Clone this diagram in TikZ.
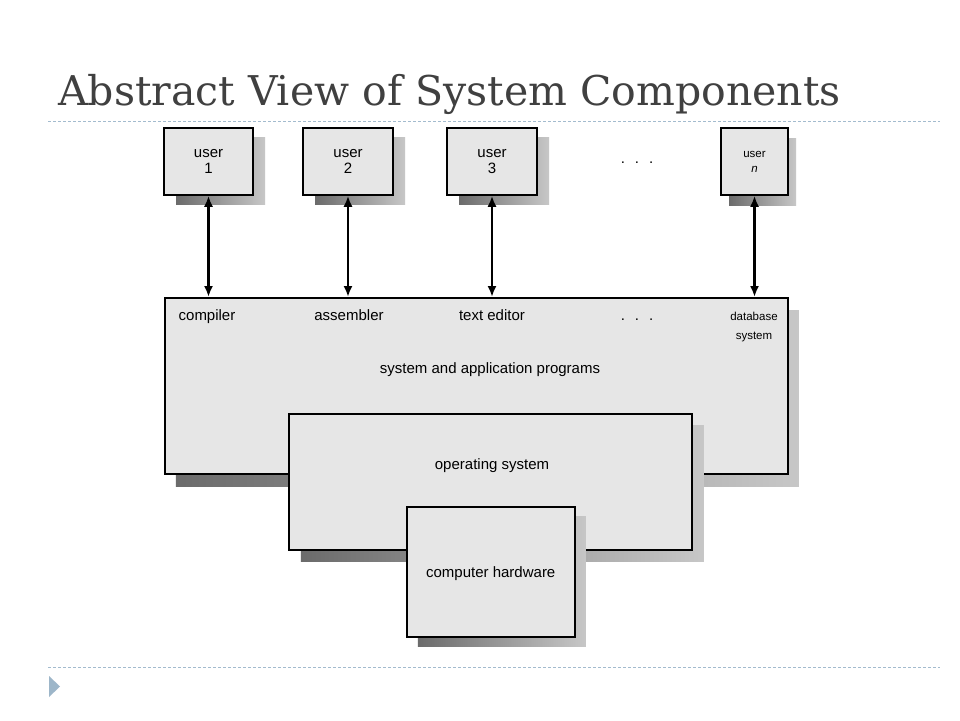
\documentclass[tikz,border=0pt]{standalone}
\usepackage{fontspec}
\setmainfont{Liberation Sans}
\newfontfamily\titlefont{DejaVu Serif}
\usepackage{tikz}
\usetikzlibrary{arrows.meta, shadows}

\definecolor{boxfill}{HTML}{E6E6E6}
\definecolor{rulecol}{HTML}{A3BBCE}
\definecolor{titlecol}{HTML}{404040}
\definecolor{bulletcol}{HTML}{9DB6C9}

\tikzset{
  compbox/.style={draw=black, line width=1.5pt, fill=boxfill, inner sep=0pt, align=center},
  shadowed/.style 2 args={drop shadow={shadow xshift=#1, shadow yshift=#2,
      opacity=1, left color=black!58, right color=black!22}},
  link/.style={line width=2.4pt, {Latex[length=11pt,width=9pt]}-{Latex[length=11pt,width=9pt]}},
  lbl/.style={font=\fontsize{15}{15.5}\selectfont},
  small/.style={font=\fontsize{11.5}{15}\selectfont},
}

\begin{document}
\begin{tikzpicture}[x=1pt, y=-1pt]
    \useasboundingbox (0,0) rectangle (960,720);
    \fill[white] (0,0) rectangle (960,720);

    \node[font=\titlefont\fontsize{41}{48}\selectfont, text=titlecol, anchor=base west, inner sep=0pt]
      (title) at (58,105) {Abstract View of System Components};
    \draw[rulecol, line width=0.9pt, dash pattern=on 3pt off 2pt] (48,121) -- (940,121);
    \draw[rulecol, line width=0.9pt, dash pattern=on 3pt off 2pt] (48,667) -- (940,667);
    \fill[bulletcol] (49,676) -- (60,686.5) -- (49,697) -- cycle;

    % users
    \node[compbox, lbl, shadowed={12pt}{-9pt}, minimum width=89pt, minimum height=67pt] (u1) at (208.5,161.5) {user\\1};
    \node[compbox, lbl, shadowed={12pt}{-9pt}, minimum width=90pt, minimum height=67pt] (u2) at (348,161.5) {user\\2};
    \node[compbox, lbl, shadowed={12pt}{-9pt}, minimum width=90pt, minimum height=67pt] (u3) at (492,161.5) {user\\3};
    \node[lbl, anchor=base] (udots) at (637,163) {.\hspace{10pt}.\hspace{10pt}.};
    \node[compbox, small, shadowed={8pt}{-10pt}, minimum width=67pt, minimum height=67pt] (un) at (754.5,161.5) {user\\\textit{n}};

    % system and application programs
    \node[compbox, shadowed={11pt}{-13pt}, minimum width=623pt, minimum height=176pt, anchor=north west] (sys) at (164,297) {};
    \node[lbl, anchor=base] (comp) at (207,320) {compiler};
    \node[lbl, anchor=base] (asm) at (349,320) {assembler};
    \node[lbl, anchor=base] (edit) at (492,320) {text editor};
    \node[lbl, anchor=base] (pdots) at (637,320) {.\hspace{10pt}.\hspace{10pt}.};
    \node[font=\fontsize{11.5}{19}\selectfont, align=center, anchor=base] (db) at (754,339) {database\\system};
    \node[lbl, anchor=base] (sysl) at (490,373) {system and application programs};

    % operating system and hardware
    \node[compbox, shadowed={12pt}{-12pt}, minimum width=403pt, minimum height=136pt, anchor=north west] (os) at (288,413) {};
    \node[lbl, anchor=base] (osl) at (492,469) {operating system};
    \node[compbox, lbl, shadowed={11pt}{-10pt}, minimum width=168pt, minimum height=130pt, text depth=0pt, anchor=north west] (hw) at (406,506) {computer hardware};

    \foreach \u in {u1,u2,u3,un}
      \draw[link] (\u.south) -- (\u.south |- sys.north);
  \end{tikzpicture}
\end{document}
